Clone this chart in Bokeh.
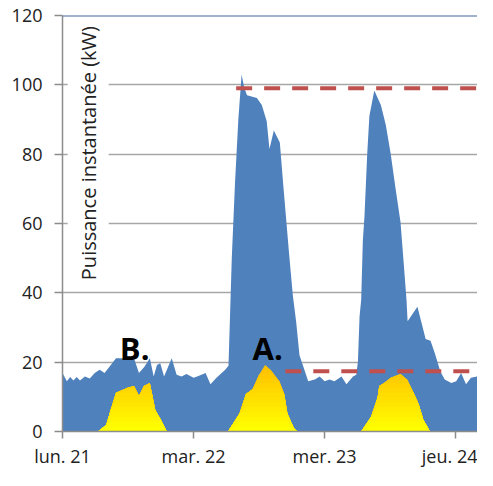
import numpy as np
from bokeh.plotting import figure
from bokeh.models import FixedTicker, Range1d, Label, Span
from bokeh.embed import file_html
from bokeh.resources import INLINE

# ---- data (hours since lun. 21 00:00) ----
hours_total = [0.0, 0.8, 1.4, 2.0, 2.6, 3.2, 4.1, 5.0, 5.9, 6.8, 7.7, 8.6, 9.8, 13.1, 14.0,
               15.0, 16.0, 16.7, 17.3, 17.9, 18.6, 20.0, 20.9, 21.8, 22.7, 24.0, 24.9, 26.2,
               27.1, 28.2, 29.8, 30.4, 31.0, 31.6, 32.2, 32.8, 33.3, 33.8, 35.6, 36.5, 37.4,
               37.9, 38.7, 39.8, 40.4, 40.9, 41.5, 42.2, 42.8, 43.4, 44.3, 45.0, 46.2, 47.1,
               48.0, 48.9, 49.8, 51.1, 52.0, 53.2, 53.8, 54.1, 54.4, 54.7, 55.0, 55.3, 55.8,
               56.2, 57.1, 58.3, 59.2, 60.1, 61.0, 61.9, 62.5, 63.0, 63.2, 65.0, 65.9, 66.5,
               67.4, 68.2, 69.2, 70.0, 71.2, 72.1, 73.0, 73.9, 74.8, 76.0, 76.9, 77.8]
power_total = [16.9, 14.5, 15.7, 14.7, 15.7, 14.7, 15.9, 15.3, 16.9, 17.8, 16.9, 18.7, 21.1, 21.1, 16.9,
               18.7, 21.1, 15.9, 19.2, 19.7, 15.9, 21.1, 16.4, 15.9, 16.6, 15.5, 16.0, 16.9,
               13.6, 15.5, 17.8, 19.0, 50.0, 72.0, 90.0, 103.0, 99.0, 97.0, 96.2, 94.2, 89.5,
               81.5, 86.8, 83.4, 71.7, 62.4, 51.2, 39.0, 31.5, 22.0, 17.8, 14.5, 15.0, 15.9,
               14.5, 15.0, 14.5, 15.9, 13.6, 15.9, 16.4, 20.1, 33.2, 38.0, 55.0, 62.0, 80.0,
               91.0, 98.4, 94.2, 88.5, 80.1, 70.0, 60.4, 48.3, 37.9, 31.8, 36.0, 30.4, 26.7,
               26.2, 22.5, 17.3, 15.0, 14.0, 14.5, 16.9, 13.6, 15.5, 15.9, 15.5, 16.9]

hours_solar = [6.5, 8.0, 8.9, 9.8, 11.9, 13.1, 14.0, 14.9, 16.0, 16.4, 17.0, 17.9, 19.1,
               30.3, 32.4, 33.6, 34.8, 36.0, 37.1, 38.1, 39.7, 40.6, 41.2, 42.4, 43.0,
               54.7, 56.5, 57.7, 58.0, 58.9, 60.1, 61.9, 63.1, 64.3, 65.2, 66.1, 67.3]
power_solar = [0.0, 1.9, 6.6, 11.2, 12.6, 13.1, 10.3, 13.1, 14.0, 10.8, 6.1, 3.7, 0.0,
               0.0, 5.1, 10.8, 12.2, 16.4, 19.2, 17.8, 14.5, 10.8, 5.1, 0.9, 0.0,
               0.0, 4.2, 9.8, 13.1, 14.0, 15.5, 16.6, 15.0, 11.2, 8.0, 3.3, 0.0]

day_ticks = [0, 24, 48, 72]
day_labels = ["lun. 21", "mar. 22", "mer. 23", "jeu. 24"]
y_ticks = [0, 20, 40, 60, 80, 100, 120]

threshold_levels = [99.0, 17.4]
threshold_starts = [31.8, 40.8]

X_END = 76.0
Y_END = 120

BLUE = "#4f81bd"
RED = "#c0504d"
GRID = "#a6a6a6"
TXT = "#222222"
FONT = "Open Sans"

p = figure(width=477, height=470, output_backend="svg", toolbar_location=None,
           x_range=Range1d(0, X_END), y_range=Range1d(0, Y_END),
           min_border_left=62, min_border_right=0, min_border_top=15, min_border_bottom=32)
p.outline_line_color = None
p.background_fill_color = "white"
p.border_fill_color = "white"

# grid
p.xgrid.grid_line_color = None
p.ygrid.ticker = FixedTicker(ticks=y_ticks)
p.ygrid.grid_line_color = GRID
p.ygrid.grid_line_width = 1.5

# axes
p.yaxis.ticker = FixedTicker(ticks=y_ticks)
p.xaxis.ticker = FixedTicker(ticks=day_ticks)
p.xaxis.major_label_overrides = {t: l for t, l in zip(day_ticks, day_labels)}
for ax in (p.xaxis[0], p.yaxis[0]):
    ax.axis_line_color = "#8c8c8c"
    ax.axis_line_width = 1.5
    ax.major_tick_line_color = "#8c8c8c"
    ax.major_tick_line_width = 1.5
    ax.major_tick_in = 0
    ax.minor_tick_line_color = None
    ax.major_label_text_font = FONT
    ax.major_label_text_font_size = "18px"
    ax.major_label_text_color = TXT
p.yaxis.major_tick_out = 8
p.yaxis.major_label_standoff = 12
p.xaxis.major_tick_out = 7
p.xaxis.major_label_standoff = 5

# total power (blue area)
p.varea(x=hours_total, y1=0, y2=power_total, fill_color=BLUE, fill_alpha=1.0)

# solar production (yellow->orange vertical gradient approximated with bands)
s = np.array(power_solar)
n_bands = 14
levels = np.linspace(0, 19.5, n_bands + 1)[1:]
c_bot = np.array([255, 255, 0])
c_top = np.array([255, 192, 0])
for k in range(n_bands - 1, -1, -1):
    t = k / (n_bands - 1)
    c = (c_bot + (c_top - c_bot) * t).astype(int)
    col = "#%02x%02x%02x" % tuple(c)
    top = s if k == n_bands - 1 else np.minimum(s, levels[k])
    p.varea(x=hours_solar, y1=0, y2=top, fill_color=col, fill_alpha=1.0)

# top border line
p.add_layout(Span(location=Y_END, dimension="width", line_color="#41679e", line_width=2))

# thresholds (dashed red)
p.segment(x0=threshold_starts, y0=threshold_levels, x1=[X_END] * len(threshold_levels),
          y1=threshold_levels, line_color=RED, line_width=4, line_dash="16 12")

# y-axis title inside the plot
p.add_layout(Label(x=4.7, y=80.3, text="Puissance instantanée (kW)", angle=np.pi / 2,
                   text_align="center", text_baseline="middle", text_font=FONT,
                   text_font_size="20px", text_color=TXT, background_fill_color="white",
                   padding=7))

# annotations
p.add_layout(Label(x=10.5, y=24.0, text="B.", text_font=FONT, text_font_style="bold",
                   text_font_size="31px", text_color="black", text_align="left",
                   text_baseline="alphabetic"))
p.add_layout(Label(x=34.8, y=24.0, text="A.", text_font=FONT, text_font_style="bold",
                   text_font_size="31px", text_color="black", text_align="left",
                   text_baseline="alphabetic"))

open("out.html", "w").write(file_html(p, INLINE))
